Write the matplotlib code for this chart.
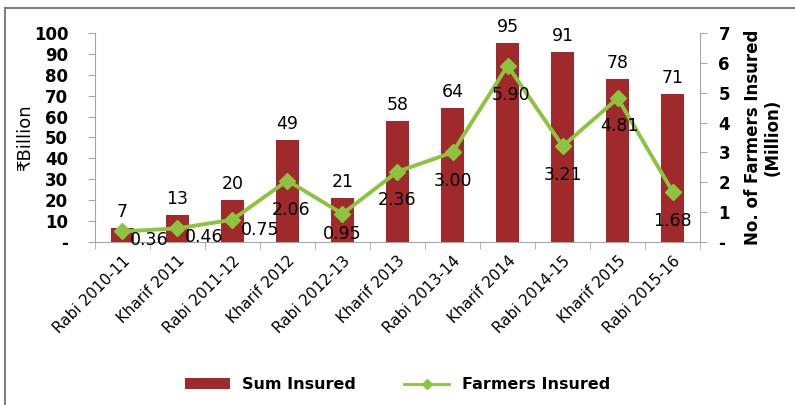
import numpy as np
import matplotlib.pyplot as plt
from matplotlib.lines import Line2D
from matplotlib.patches import Patch

# Data
seasons = ['Rabi 2010-11', 'Kharif 2011', 'Rabi 2011-12', 'Kharif 2012', 'Rabi 2012-13',
           'Kharif 2013', 'Rabi 2013-14', 'Kharif 2014', 'Rabi 2014-15', 'Kharif 2015',
           'Rabi 2015-16']
sum_insured = [7, 13, 20, 49, 21, 58, 64, 95, 91, 78, 71]          # ₹ Billion
farmers_insured = [0.36, 0.46, 0.75, 2.06, 0.95, 2.36, 3.00, 5.90, 3.21, 4.81, 1.68]  # Million

# label offsets (pixels) for the line labels
line_lbl_off = [(27, -9), (27, -9), (28, -10), (4, -29), (0, -20), (0, -28),
                (0, -29), (3, -29), (0, -29), (2, -28), (0, -29)]

bar_color = '#A0292C'
line_color = '#8CC43F'
axis_gray = '#A6A6A6'

plt.rcParams['font.family'] = ['DejaVu Sans']

fig = plt.figure(figsize=(7.95, 4.05), dpi=100)
ax = fig.add_axes([0.119, 0.402, 0.762, 0.517])
ax2 = ax.twinx()

x = np.arange(len(seasons))
ax.bar(x, sum_insured, width=0.42, color=bar_color, zorder=2)
for xi, v in zip(x, sum_insured):
    ax.annotate(str(v), (xi, v), xytext=(0, 7), textcoords='offset pixels',
                ha='center', va='bottom', fontsize=12.5)

ax2.plot(x, farmers_insured, color=line_color, lw=2.8, marker='D', ms=8,
         markerfacecolor=line_color, markeredgecolor=line_color, zorder=3)
for xi, v, off in zip(x, farmers_insured, line_lbl_off):
    ax2.annotate(f'{v:.2f}', (xi, v), xytext=off, textcoords='offset pixels',
                 ha='center', va='center', fontsize=12.5, zorder=4)

ax.set_xlim(-0.5, len(seasons) - 0.5)
ax.set_ylim(0, 100)
ax2.set_ylim(0, 7)

ax.set_yticks(range(0, 101, 10))
ax.set_yticklabels(['-'] + [str(v) for v in range(10, 101, 10)], fontsize=12, fontweight='bold')
ax2.set_yticks(range(0, 8))
ax2.set_yticklabels(['-'] + [str(v) for v in range(1, 8)], fontsize=12, fontweight='bold')

ax.set_xticks(x)
ax.set_xticklabels(seasons, rotation=45, ha='right', rotation_mode='anchor', fontsize=11)
ax.tick_params(axis='x', length=0, pad=8)
# category separator ticks
ax.set_xticks(np.arange(-0.5, len(seasons), 1), minor=True)
ax.tick_params(axis='x', which='minor', length=5, color=axis_gray, direction='out')

ax.tick_params(axis='y', length=5, color=axis_gray, pad=14)
ax2.tick_params(axis='y', length=5, color=axis_gray, pad=8)

for a in (ax, ax2):
    for s in a.spines.values():
        s.set_visible(False)
ax.spines['left'].set_visible(True)
ax.spines['left'].set_color(axis_gray)
ax.spines['bottom'].set_visible(True)
ax.spines['bottom'].set_color(axis_gray)
ax2.spines['right'].set_visible(True)
ax2.spines['right'].set_color(axis_gray)

ax.set_ylabel('₹Billion', fontsize=13, labelpad=0)
ax2.set_ylabel('No. of Farmers Insured\n(Million)', fontsize=12, fontweight='bold',
               rotation=90, labelpad=10, linespacing=1.1)

handles = [Patch(facecolor=bar_color, label='Sum Insured'),
           Line2D([0], [0], color=line_color, lw=2, marker='D', ms=5, label='Farmers Insured')]
fig.legend(handles=handles, loc='center', bbox_to_anchor=(0.5, 0.05), ncol=2, frameon=False,
           handlelength=2.8, columnspacing=3, prop={'weight': 'bold', 'size': 11.5})

# outer frame (top and left edges)
fig.add_artist(Line2D([0.006, 1.0], [0.98, 0.98], color='#7F7F7F', lw=1.5))
fig.add_artist(Line2D([0.006, 0.006], [0.0, 0.98], color='#7F7F7F', lw=1.5))

fig.savefig('out.png', dpi=100)
